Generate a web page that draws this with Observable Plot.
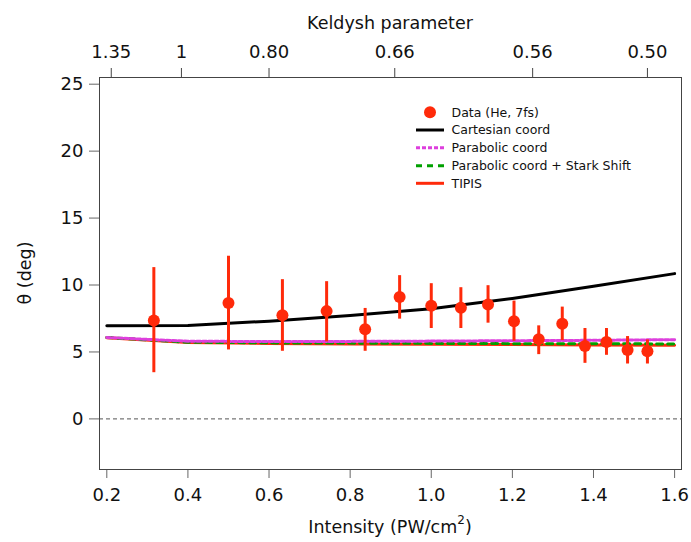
<!DOCTYPE html>
<html>
<head>
<meta charset="utf-8">
<script src="https://cdn.jsdelivr.net/npm/d3@7"></script>
<script src="https://cdn.jsdelivr.net/npm/@observablehq/plot@0.6"></script>
<style>
  html, body { margin: 0; padding: 0; background: white; }
  #chart { position: relative; width: 691px; height: 542px; }
</style>
</head>
<body>
<div id="chart"></div>
<script>
// Model curves (intensity in PW/cm^2, theta in deg)
const modelIntensity = [0.2, 0.4, 0.6, 0.8, 1.0, 1.2, 1.4, 1.6];
const cartesian      = [6.95, 6.97, 7.3, 7.72, 8.22, 9.0, 9.9, 10.85];
const parabolic      = [6.08, 5.8, 5.78, 5.79, 5.81, 5.84, 5.87, 5.92];
const parabolicStark = [6.08, 5.73, 5.68, 5.66, 5.64, 5.62, 5.61, 5.6];
const tipis          = [6.06, 5.7, 5.64, 5.6, 5.57, 5.55, 5.52, 5.5];

// Measured data (He, 7 fs)
const dataIntensity = [0.316, 0.50, 0.633, 0.742, 0.837, 0.922, 1.0, 1.073, 1.14, 1.204, 1.265, 1.323, 1.379, 1.432, 1.484, 1.533];
const dataTheta     = [7.35, 8.65, 7.75, 8.05, 6.7, 9.1, 8.45, 8.3, 8.55, 7.3, 5.95, 7.1, 5.45, 5.75, 5.15, 5.05];
const dataLow       = [3.45, 5.15, 5.05, 5.75, 5.05, 7.45, 6.75, 6.75, 7.15, 5.8, 4.8, 5.85, 4.15, 4.75, 4.1, 4.1];
const dataHigh      = [11.3, 12.15, 10.4, 10.25, 8.25, 10.7, 10.1, 9.8, 9.95, 8.8, 6.95, 8.35, 6.75, 6.75, 6.15, 5.9];

// Axis ticks
const xTicks = [0.2, 0.4, 0.6, 0.8, 1.0, 1.2, 1.4, 1.6];
const yTicks = [0, 5, 10, 15, 20, 25];
const keldyshTickIntensity = [0.211, 0.384, 0.6, 0.91, 1.25, 1.533];
const keldyshTickLabels = ["1.35", "1", "0.80", "0.66", "0.56", "0.50"];

const seriesNames = ["Data (He, 7fs)", "Cartesian coord", "Parabolic coord", "Parabolic coord + Stark Shift", "TIPIS"];
const xTitle = "Intensity (PW/cm";
const yTitle = "θ (deg)";
const topTitle = "Keldysh parameter";

const RED = "#ff2a0a", MAGENTA = "#dd3fdd", GREEN = "#00a000", BLACK = "#000";
const FONT = "'DejaVu Sans', sans-serif";

const model = modelIntensity.map((x, i) => ({x, cart: cartesian[i], para: parabolic[i], stark: parabolicStark[i], tipis: tipis[i]}));
const data = dataIntensity.map((x, i) => ({x, y: dataTheta[i], lo: dataLow[i], hi: dataHigh[i]}));
const keldyshMap = new Map(keldyshTickIntensity.map((d, i) => [d, keldyshTickLabels[i]]));

const W = 691, H = 542, ML = 99, MR = 10, MT = 77, MB = 73;

const plot = Plot.plot({
  width: W,
  height: H,
  marginLeft: ML,
  marginRight: MR,
  marginTop: MT,
  marginBottom: MB,
  style: {fontFamily: FONT, fontSize: "18px", background: "white", color: "#111"},
  x: {domain: [0.182, 1.617]},
  y: {domain: [-3.78, 25.5]},
  marks: [
    Plot.ruleY([0], {stroke: "#555", strokeDasharray: "4,3", strokeWidth: 1}),
    Plot.axisY({ticks: yTicks, tickSize: 10, tickPadding: 6, tickFormat: d => String(d), stroke: "#666",
      label: null, fontSize: 18}),
    Plot.axisX({anchor: "bottom", ticks: xTicks, tickSize: 9, tickPadding: 10, tickFormat: d => d.toFixed(1), stroke: "#666",
      label: null, fontSize: 18}),
    Plot.axisX({anchor: "top", ticks: keldyshTickIntensity, tickSize: 10, tickPadding: 10, tickFormat: d => keldyshMap.get(d), stroke: "#444",
      label: null, fontSize: 18}),
    Plot.frame({stroke: "#444", strokeWidth: 1}),
    Plot.line(model, {x: "x", y: "cart", stroke: BLACK, strokeWidth: 3}),
    Plot.line(model, {x: "x", y: "tipis", stroke: RED, strokeWidth: 3}),
    Plot.line(model, {x: "x", y: "stark", stroke: GREEN, strokeWidth: 3, strokeDasharray: "6,5"}),
    Plot.line(model, {x: "x", y: "para", stroke: MAGENTA, strokeWidth: 3, strokeDasharray: "4,2"}),
    Plot.ruleX(data, {x: "x", y1: "lo", y2: "hi", stroke: RED, strokeWidth: 3}),
    Plot.dot(data, {x: "x", y: "y", r: 6, fill: RED, stroke: "none"})
  ]
});

document.getElementById("chart").appendChild(plot);

const svg = d3.select(plot);
const cx = ML + (W - ML - MR) / 2;
const cy = MT + (H - MT - MB) / 2;

// Axis titles
const titles = svg.append("g").attr("font-family", FONT).attr("font-size", 17.5).attr("fill", "#111").attr("text-anchor", "middle");
titles.append("text").attr("x", cx).attr("y", 23).attr("dy", "0.35em").text(topTitle);
const xt = titles.append("text").attr("x", cx).attr("y", 527).attr("dy", "0.35em");
xt.append("tspan").text(xTitle);
xt.append("tspan").attr("font-size", 12).attr("dy", "-0.75em").text("2");
xt.append("tspan").attr("dy", "0.52em").text(")");
titles.append("text").attr("transform", `translate(25,${cy}) rotate(-90)`).attr("dy", "0.35em").text(yTitle);

// Legend inside the plot area
const lg = svg.append("g").attr("font-family", FONT).attr("font-size", 12.5).attr("text-anchor", "start");
const rowY = [112.3, 130, 147.7, 165.7, 183.3];
const styles = [
  {type: "dot", color: RED},
  {type: "line", color: BLACK, dash: null},
  {type: "line", color: MAGENTA, dash: "4,2"},
  {type: "line", color: GREEN, dash: "6,5"},
  {type: "line", color: RED, dash: null}
];
seriesNames.forEach((name, i) => {
  const s = styles[i];
  const y = rowY[i];
  if (s.type === "dot") {
    lg.append("circle").attr("cx", 430).attr("cy", y).attr("r", 6).attr("fill", s.color);
  } else {
    const l = lg.append("line").attr("x1", 416).attr("x2", 444).attr("y1", y).attr("y2", y)
      .attr("stroke", s.color).attr("stroke-width", 3);
    if (s.dash) l.attr("stroke-dasharray", s.dash);
  }
  lg.append("text").attr("x", 451.5).attr("y", y).attr("dy", "0.35em").attr("fill", "#111").text(name);
});
</script>
</body>
</html>
